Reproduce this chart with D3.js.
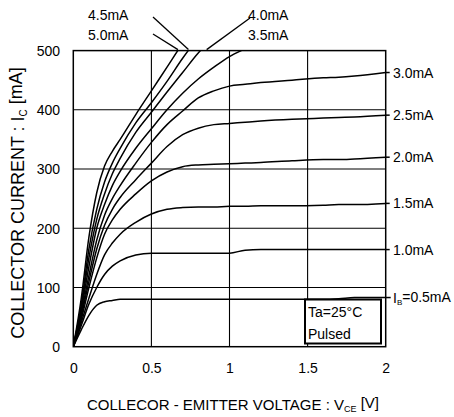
<!DOCTYPE html>
<html>
<head>
<meta charset="utf-8">
<script src="https://cdn.jsdelivr.net/npm/d3@7"></script>
<style>
  html, body { margin: 0; padding: 0; background: #fff; }
  svg { display: block; }
  text { font-family: "Liberation Sans", Arial, sans-serif; fill: #000; }
</style>
</head>
<body>
<svg id="chart" width="454" height="417"></svg>
<script>
// ---- data ----
const vce = [0, 0.05, 0.1, 0.15, 0.2, 0.25, 0.3, 0.4, 0.5, 0.6, 0.7, 0.8, 0.9, 1.0, 1.1, 1.2, 1.4, 1.6, 1.7, 1.8, 2.0];
const ib05 = [0, 28, 53, 70, 76, 78, 80, 80, 80, 80, 80, 80, 80, 80, 80, 80, 80, 80, 81, 83, 83];
const ib10 = [0, 35, 72, 100, 122, 136, 145, 155, 158, 158, 158, 158, 158, 158, 163, 164, 164, 164, 164, 164, 164];
const ib15 = [0, 40, 82, 122, 155, 175, 190, 210, 224, 232, 235, 236, 236, 237, 237, 238, 238, 239, 240, 240, 242];
const ib20 = [0, 45, 100, 150, 190, 214, 232, 258, 280, 295, 304, 307, 308, 309, 310, 311, 314, 316, 316, 317, 320];
const ib25 = [0, 50, 110, 165, 205, 232, 252, 282, 310, 338, 358, 369, 375, 377, 379, 381, 384, 386, 387, 388, 391];
const ib30 = [0, 55, 120, 180, 222, 250, 272, 310, 345, 375, 398, 420, 432, 440, 443, 446, 450, 454, 455, 457, 463];
const ib35 = [0, 60, 135, 200, 240, 272, 296, 335, 368, 400, 428, 452, 472, 490, 503, 515, 535, 550, 555, 560, 570];
const ib40 = [0, 65, 150, 215, 258, 292, 318, 362, 396, 430, 463, 496, 522, 545, 560, 575, 600, 620, 630, 640, 660];
const ib45 = [0, 70, 165, 232, 278, 310, 335, 378, 412, 448, 487, 522, 550, 575, 595, 610, 640, 665, 675, 685, 705];
const ib50 = [0, 80, 185, 260, 305, 330, 350, 392, 432, 472, 512, 545, 575, 600, 620, 640, 670, 695, 705, 715, 735];

const seriesNames = ["0.5mA", "1.0mA", "1.5mA", "2.0mA", "2.5mA", "3.0mA", "3.5mA", "4.0mA", "4.5mA", "5.0mA"];
const seriesValues = [ib05, ib10, ib15, ib20, ib25, ib30, ib35, ib40, ib45, ib50];

const xTicks = [0, 0.5, 1, 1.5, 2];
const xTickLabels = ["0", "0.5", "1", "1.5", "2"];
const yTicks = [0, 100, 200, 300, 400, 500];

const rightLabelSeries = ["3.0mA", "2.5mA", "2.0mA", "1.5mA", "1.0mA"];
const topLabelsLeft = ["4.5mA", "5.0mA"];
const topLabelsRight = ["4.0mA", "3.5mA"];
const pointerSeries = ["4.5mA", "5.0mA", "4.0mA"];

// ---- layout ----
const svg = d3.select("#chart");
const plot = { left: 73.3, right: 385.7, top: 50.6, bottom: 346.7 };
const x = d3.scaleLinear().domain([0, 2]).range([plot.left, plot.right]);
const y = d3.scaleLinear().domain([0, 500]).range([plot.bottom, plot.top]);

svg.append("rect").attr("width", 454).attr("height", 417).attr("fill", "#fff");

// clip
svg.append("clipPath").attr("id", "clip")
  .append("rect")
  .attr("x", plot.left).attr("y", plot.top)
  .attr("width", plot.right - plot.left).attr("height", plot.bottom - plot.top);

// grid
const grid = svg.append("g").attr("stroke", "#000").attr("stroke-width", 1.1);
grid.selectAll(".vg").data(xTicks.slice(1, -1)).join("line")
  .attr("x1", d => x(d)).attr("x2", d => x(d))
  .attr("y1", plot.top).attr("y2", plot.bottom);
grid.selectAll(".hg").data(yTicks.slice(1, -1)).join("line")
  .attr("y1", d => y(d)).attr("y2", d => y(d))
  .attr("x1", plot.left).attr("x2", plot.right);

// curves
const line = d3.line()
  .x((d, i) => x(vce[i]))
  .y(d => y(d))
  .curve(d3.curveMonotoneX);
svg.append("g").attr("clip-path", "url(#clip)")
  .selectAll("path").data(seriesValues).join("path")
  .attr("d", d => line(d))
  .attr("fill", "none").attr("stroke", "#000").attr("stroke-width", 1.5)
  .attr("stroke-linejoin", "round");

// frame
svg.append("rect")
  .attr("x", plot.left).attr("y", plot.top)
  .attr("width", plot.right - plot.left).attr("height", plot.bottom - plot.top)
  .attr("fill", "none").attr("stroke", "#000").attr("stroke-width", 1.5);

// axes tick labels using d3 axes (no domain / tick lines)
const xAxis = d3.axisBottom(x).tickValues(xTicks).tickFormat((d, i) => xTickLabels[i]).tickSize(0).tickPadding(0);
const gx = svg.append("g").attr("transform", `translate(0,${plot.bottom})`).call(xAxis);
gx.select(".domain").remove();
gx.selectAll("text").attr("font-size", 14).attr("font-family", "Liberation Sans, Arial, sans-serif")
  .attr("y", 26).attr("dy", 0).attr("fill", "#000");

const yAxis = d3.axisLeft(y).tickValues(yTicks).tickSize(0).tickPadding(0);
const gy = svg.append("g").attr("transform", `translate(60,0)`).call(yAxis);
gy.select(".domain").remove();
gy.selectAll("text").attr("font-size", 14).attr("font-family", "Liberation Sans, Arial, sans-serif")
  .attr("x", 0).attr("dy", "0.35em").attr("fill", "#000");

// right labels
const lastVal = name => { const s = seriesValues[seriesNames.indexOf(name)]; return s[s.length - 1]; };
const rl = svg.append("g");
rightLabelSeries.forEach(name => {
  const yy = y(lastVal(name));
  rl.append("line").attr("x1", plot.right).attr("x2", plot.right + 4)
    .attr("y1", yy).attr("y2", yy).attr("stroke", "#000").attr("stroke-width", 1.5);
  rl.append("text").attr("x", 393).attr("y", yy).attr("dy", "0.36em")
    .attr("font-size", 14).text(name);
});
{
  const yy = y(lastVal("0.5mA"));
  rl.append("line").attr("x1", plot.right).attr("x2", plot.right + 5)
    .attr("y1", yy).attr("y2", yy).attr("stroke", "#000").attr("stroke-width", 1.5);
  const t = rl.append("text").attr("x", 393).attr("y", yy).attr("dy", "0.36em").attr("font-size", 14);
  t.append("tspan").text("I");
  t.append("tspan").attr("font-size", 8).attr("dy", "0.35em").text("B");
  t.append("tspan").attr("dy", "-0.22em").text("=0.5mA");
}

// top labels
topLabelsLeft.forEach((s, i) => {
  svg.append("text").attr("x", 88).attr("y", 20 + i * 20).attr("font-size", 14).text(s);
});
topLabelsRight.forEach((s, i) => {
  svg.append("text").attr("x", 248).attr("y", 20 + i * 20).attr("font-size", 14).text(s);
});

// pointer lines to where the curves leave the top of the plot
function crossTop(name) {
  const s = seriesValues[seriesNames.indexOf(name)];
  for (let i = 1; i < s.length; i++) {
    if (s[i] >= 500) {
      const t = (500 - s[i - 1]) / (s[i] - s[i - 1]);
      return vce[i - 1] + t * (vce[i] - vce[i - 1]);
    }
  }
  return 2;
}
const pointerStarts = { "4.5mA": [153, 17], "5.0mA": [153, 34], "4.0mA": [250, 18] };
pointerSeries.forEach(name => {
  const [sx, sy] = pointerStarts[name];
  svg.append("line")
    .attr("x1", sx).attr("y1", sy)
    .attr("x2", x(crossTop(name)) + (name === "4.0mA" ? 6 : 0)).attr("y2", plot.top - 1)
    .attr("stroke", "#000").attr("stroke-width", 1.3);
});

// condition box
svg.append("rect").attr("x", 305).attr("y", 299.5).attr("width", 76).attr("height", 44)
  .attr("fill", "#fff").attr("stroke", "#000").attr("stroke-width", 2);
svg.append("text").attr("x", 308).attr("y", 316.5).attr("font-size", 14).text("Ta=25°C");
svg.append("text").attr("x", 308).attr("y", 339).attr("font-size", 14).text("Pulsed");

// axis titles
{
  const t = svg.append("text").attr("x", 87).attr("y", 409.5).attr("font-size", 15);
  t.append("tspan").text("COLLECOR - EMITTER VOLTAGE : V");
  t.append("tspan").attr("font-size", 9).attr("dy", "0.3em").text("CE");
  t.append("tspan").attr("dy", "-0.3em").text(" [V]");
}
{
  const t = svg.append("text")
    .attr("transform", "translate(24,203) rotate(-90)")
    .attr("text-anchor", "middle").attr("font-size", 18);
  t.append("tspan").text("COLLECTOR CURRENT : I");
  t.append("tspan").attr("font-size", 10).attr("dy", "0.3em").text("C");
  t.append("tspan").attr("dy", "-0.3em").text(" [mA]");
}
</script>
</body>
</html>
